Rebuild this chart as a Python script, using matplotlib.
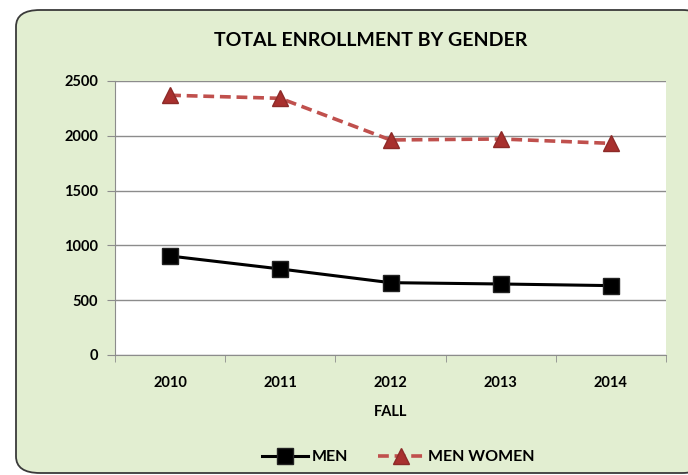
import matplotlib
matplotlib.use("Agg")
import matplotlib.pyplot as plt
from matplotlib.patches import FancyBboxPatch

# Data
years = ["2010", "2011", "2012", "2013", "2014"]
men = [903, 785, 660, 648, 633]
women = [2370, 2342, 1962, 1971, 1931]
y_ticks = [0, 500, 1000, 1500, 2000, 2500]

plt.rcParams["font.family"] = ["Lato", "DejaVu Sans"]

fig = plt.figure(figsize=(6.88, 4.75), dpi=100)
fig.patch.set_facecolor("white")

# rounded green chart frame
frame = FancyBboxPatch((16 / 688, 2 / 475), 690 / 688, 463 / 475,
                       boxstyle="round,pad=0,rounding_size=0.035",
                       transform=fig.transFigure, facecolor="#e2eed1",
                       edgecolor="#3a3a3a", linewidth=1.3, zorder=-5)
fig.patches.append(frame)

ax = fig.add_axes([115 / 688, 120 / 475, 551 / 688, 274 / 475])
ax.set_zorder(2)
ax.set_facecolor("white")

x = list(range(len(years)))
ax.plot(x, men, color="black", linewidth=2.2, marker="s", markersize=11,
        markerfacecolor="black", markeredgecolor="#222222", label="MEN", zorder=3)
ax.plot(x, women, color="#c0504d", linewidth=2.6, linestyle=(0, (3, 1.6)),
        marker="^", markersize=11, markerfacecolor="#a8302e",
        markeredgecolor="#8c2a28", label="MEN WOMEN", zorder=3)

ax.set_xlim(-0.5, len(years) - 0.5)
ax.set_ylim(0, 2500)
ax.set_yticks(y_ticks)
ax.set_yticklabels([str(v) for v in y_ticks], fontweight="bold", fontsize=10.5)
ax.yaxis.grid(True, color="#8c8c8c", linewidth=1)
ax.set_axisbelow(True)

ax.set_xticks(x)
ax.set_xticklabels(years, fontweight="bold", fontsize=10.5)
ax.set_xticks([i - 0.5 for i in range(len(years) + 1)], minor=True)
ax.tick_params(axis="x", which="major", length=0, pad=15)
ax.tick_params(axis="x", which="minor", length=5, color="#8c8c8c")
ax.tick_params(axis="y", length=6, color="#8c8c8c", pad=6)

for side in ["top", "right"]:
    ax.spines[side].set_visible(False)
ax.spines["left"].set_color("#8c8c8c")
ax.spines["bottom"].set_color("#8c8c8c")

ax.set_xlabel("FALL", fontweight="bold", fontsize=10.5, labelpad=11)
fig.text(371 / 688, 1 - 41 / 475, "TOTAL ENROLLMENT BY GENDER",
         ha="center", va="center", fontweight="bold", fontsize=14)

fig.legend(loc="center", bbox_to_anchor=(398 / 688, 1 - 457 / 475),
           ncol=2, frameon=False, prop={"weight": "bold", "size": 11.5},
           handlelength=2.9, columnspacing=1.9, handletextpad=0.2,
           markerscale=1.1)

fig.savefig("out.png", dpi=100)
